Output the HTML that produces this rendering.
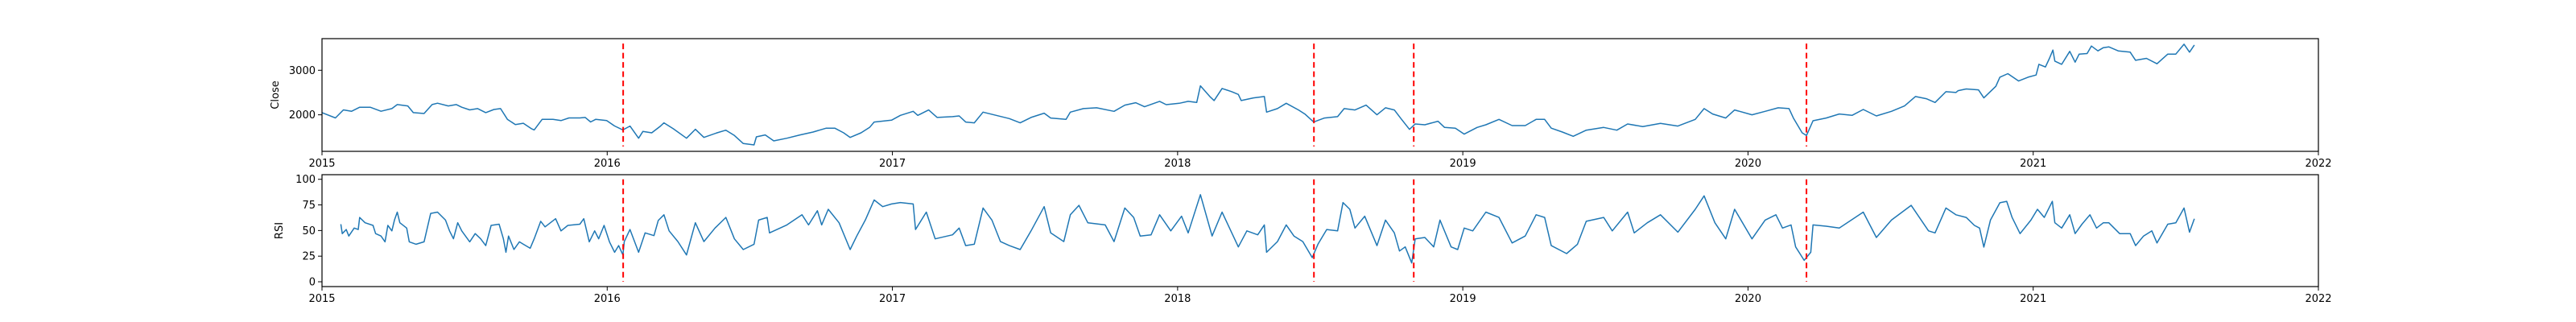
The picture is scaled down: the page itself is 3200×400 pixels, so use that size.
<!DOCTYPE html>
<html><head><meta charset="utf-8"><style>
html,body{margin:0;padding:0;background:#fff;}
svg{display:block;font-family:"DejaVu Sans","Liberation Sans",sans-serif;}
</style></head>
<body>
<svg id="chart" width="3200" height="400" viewBox="0 0 3200 400" xmlns="http://www.w3.org/2000/svg"></svg>
<script>
const closeDates=[2015.000,2015.047,2015.075,2015.104,2015.132,2015.169,2015.207,2015.245,2015.264,2015.301,2015.320,2015.358,2015.386,2015.405,2015.443,2015.471,2015.490,2015.518,2015.546,2015.574,2015.603,2015.626,2015.650,2015.678,2015.706,2015.734,2015.744,2015.772,2015.810,2015.838,2015.866,2015.904,2015.923,2015.942,2015.960,2015.998,2016.026,2016.055,
2016.080,2016.110,2016.125,2016.156,2016.187,2016.199,2016.232,2016.278,2016.309,2016.339,2016.385,2016.416,2016.446,2016.477,2016.515,2016.523,2016.554,2016.584,2016.630,2016.676,2016.722,2016.768,2016.798,2016.829,2016.852,2016.890,2016.920,2016.936,2016.997,2017.028,2017.073,2017.089,2017.127,2017.157,2017.211,2017.234,2017.257,2017.287,2017.318,2017.364,2017.410,2017.448,2017.486,2017.532,2017.555,2017.609,2017.624,2017.670,2017.716,2017.777,2017.815,2017.853,2017.884,2017.937,2017.960,2018.006,2018.037,2018.067,2018.080,2018.113,2018.128,2018.156,2018.190,2018.213,2018.223,2018.266,2018.304,2018.312,2018.350,2018.381,
2018.424,2018.446,2018.477,2018.515,2018.561,2018.584,2018.622,2018.661,2018.699,2018.729,2018.760,2018.783,2018.813,2018.833,2018.867,2018.913,2018.936,2018.974,2019.005,2019.050,2019.081,2019.127,2019.173,2019.219,2019.257,2019.287,2019.310,2019.349,2019.387,2019.433,2019.494,2019.540,2019.578,2019.631,2019.693,2019.754,2019.815,2019.846,2019.876,2019.922,2019.953,2020.014,2020.060,2020.106,2020.144,2020.159,2020.190,2020.205,2020.228,2020.274,2020.320,2020.365,2020.404,2020.450,2020.503,2020.549,2020.587,2020.625,2020.656,2020.694,2020.729,
2020.737,2020.765,2020.808,2020.827,2020.869,2020.883,2020.911,2020.949,2020.982,2021.010,2021.020,2021.043,2021.057,2021.069,2021.076,2021.100,2021.128,2021.147,2021.161,2021.189,2021.204,2021.227,2021.246,2021.265,2021.298,2021.340,2021.359,2021.397,2021.434,2021.472,2021.500,2021.529,2021.548,2021.565];
const closeValues=[2050,1930,2110,2080,2170,2170,2080,2140,2230,2200,2050,2030,2230,2260,2200,2230,2170,2110,2140,2050,2120,2140,1900,1780,1810,1690,1660,1900,1900,1870,1930,1930,1940,1840,1900,1870,1750,1660,
1747,1475,1626,1596,1747,1820,1686,1475,1675,1493,1596,1656,1536,1355,1325,1506,1548,1415,1475,1548,1614,1700,1700,1596,1493,1596,1717,1837,1880,1988,2078,1988,2108,1940,1958,1976,1837,1820,2060,1988,1916,1820,1940,2036,1928,1898,2060,2139,2157,2078,2217,2271,2181,2302,2229,2259,2302,2277,2651,2410,2320,2591,2519,2458,2320,2380,2410,2060,2139,2259,
2108,2018,1837,1928,1958,2139,2108,2217,2000,2157,2108,1916,1674,1795,1777,1855,1717,1700,1566,1717,1777,1898,1759,1759,1898,1898,1700,1614,1518,1656,1717,1656,1795,1735,1807,1747,1898,2139,2018,1928,2108,2000,2078,2157,2139,1928,1596,1536,1867,1928,2018,1988,2120,1976,2078,2199,2410,2362,2277,2519,2501,
2543,2580,2561,2380,2640,2845,2923,2760,2845,2893,3134,3074,3267,3454,3206,3134,3424,3182,3363,3375,3544,3436,3508,3526,3436,3406,3224,3267,3146,3363,3363,3586,3406,3568];
const rsiDates=[2015.066,2015.071,2015.085,2015.094,2015.113,2015.127,2015.132,2015.151,2015.179,2015.188,2015.207,2015.221,2015.231,2015.245,2015.254,2015.264,2015.273,2015.297,2015.306,2015.330,2015.358,2015.381,2015.405,2015.433,2015.447,2015.461,2015.476,2015.490,2015.518,2015.537,2015.556,2015.574,2015.593,2015.621,2015.636,2015.645,2015.654,2015.673,2015.692,2015.706,2015.730,2015.744,2015.767,2015.782,2015.819,2015.838,2015.862,2015.904,2015.918,2015.937,2015.956,2015.970,2015.989,2016.008,2016.026,2016.040,2016.055,
2016.060,2016.080,2016.110,2016.133,2016.164,2016.179,2016.199,2016.217,2016.248,2016.278,2016.309,2016.339,2016.378,2016.416,2016.446,2016.477,2016.515,2016.531,2016.561,2016.569,2016.630,2016.683,2016.706,2016.737,2016.752,2016.775,2016.813,2016.852,2016.875,2016.905,2016.936,2016.966,2016.997,2017.028,2017.073,2017.081,2017.119,2017.150,2017.211,2017.234,2017.257,2017.287,2017.318,2017.349,2017.379,2017.410,2017.448,2017.486,2017.532,2017.555,2017.601,2017.624,2017.654,2017.685,2017.746,2017.777,2017.815,2017.846,2017.869,2017.907,2017.937,2017.976,2018.014,2018.037,2018.080,2018.121,2018.156,2018.213,2018.243,2018.281,2018.304,2018.312,2018.350,2018.381,
2018.408,2018.439,2018.472,2018.492,2018.523,2018.561,2018.580,2018.604,2018.622,2018.656,2018.699,2018.729,2018.760,2018.778,2018.798,2018.821,2018.833,2018.867,2018.898,2018.920,2018.959,2018.982,2019.005,2019.035,2019.081,2019.127,2019.173,2019.219,2019.257,2019.287,2019.310,2019.364,2019.402,2019.433,2019.494,2019.524,2019.578,2019.601,2019.647,2019.693,2019.754,2019.815,2019.846,2019.884,2019.922,2019.953,2020.014,2020.060,2020.098,2020.121,2020.151,2020.167,2020.197,2020.220,2020.228,2020.274,2020.320,2020.404,2020.450,2020.503,2020.572,2020.633,2020.656,2020.694,2020.729,
2020.765,2020.794,2020.812,2020.827,2020.850,2020.883,2020.907,2020.926,2020.954,2020.992,2021.015,2021.039,2021.067,2021.076,2021.100,2021.128,2021.147,2021.171,2021.199,2021.222,2021.246,2021.265,2021.303,2021.340,2021.359,2021.387,2021.416,2021.434,2021.472,2021.500,2021.529,2021.548,2021.565];
const rsiValues=[56.2,47,51,44.6,52.4,51,62.8,57.6,55,47,44.6,39,55,49.7,60.2,68,57.6,52.4,39,36.6,39,66.7,68,60.2,49.7,42,57.6,49.7,39,47,42,35.3,55,56.2,42,28.8,44.6,31.5,39,36.6,32.7,42,59,53.6,61.5,49.7,55,56.2,61.5,39,49.7,42,55,39,28.8,35.3,26.2,
39.2,51,28.8,47.7,45,59.8,65.4,49.7,39.2,26.2,57.6,39.2,52.4,62.8,41.9,31.4,36.6,60.2,62.8,47.7,55.5,65.4,55.5,69.3,55.5,70.7,57.6,31.4,44.6,60.2,79.8,73.3,75.9,77.3,75.9,51,68,41.9,45.8,52.4,35.3,36.6,72,60.2,39.2,35.3,31.4,49.7,73.3,47.7,39.2,65.4,74.6,57.6,55.5,39.2,72,62.8,44.6,45.8,65.4,49.7,64,47.7,85,44.6,68,34,49.7,45.8,55.5,28.8,39.2,55.5,
44.6,39.2,23.6,36.6,51,49.7,77.3,70.7,52.4,64,35.3,60.2,47.7,30,34,18.3,41.9,43.2,34,60.2,34,31.4,52.4,49.7,68,62.8,37.9,44.6,65.4,62.8,35.3,27.5,36.6,59,62.8,49.7,68,47.7,57.6,65.4,48.4,70.7,83.8,57.6,41.9,70.7,41.9,60.2,65.4,52.4,55.5,34,20.9,28.8,55.5,54.2,52.4,68,43.2,60.2,74.6,49.7,47.7,72,65.4,
62.8,55,52.4,33.9,60.2,77.1,78.5,62.8,47,60.2,70.7,62.8,78.5,57.6,52.4,65.4,47,56.2,65.4,52.4,57.6,57.6,47,47,35.3,44.6,49.7,37.9,56.2,57.6,72,48.4,61.5];
const eventDates=[2016.056,2018.478,2018.828,2020.205];
const xTickLabels=["2015","2016","2017","2018","2019","2020","2021","2022"];
const closeTicks=[2000,3000];
const rsiTicks=[0,25,50,75,100];

const NS="http://www.w3.org/2000/svg";
const svg=document.getElementById('chart');
const L=400,R=2880;
const X=t=>L+(t-2015)/7*(R-L);
const P1={top:48,bot:188,min:1180,max:3710};
const P2={top:217,bot:356,min:-4.7,max:104.5};
const Y1=v=>P1.bot-(v-P1.min)/(P1.max-P1.min)*(P1.bot-P1.top);
const Y2=v=>P2.bot-(v-P2.min)/(P2.max-P2.min)*(P2.bot-P2.top);
function mk(tag,attrs,text){const e=document.createElementNS(NS,tag);for(const k in attrs)e.setAttribute(k,attrs[k]);if(text!==undefined)e.textContent=text;svg.appendChild(e);return e;}

function panel(P,Y,dates,vals,ticks,label,key,vmin,vmax){
  const line=mk('polyline',{points:dates.map((d,i)=>X(d).toFixed(1)+','+Y(vals[i]).toFixed(1)).join(' '),fill:'none',stroke:'#1f77b4','stroke-width':1.5,'stroke-linejoin':'round'});
  
  
  eventDates.forEach((d,i)=>{
    const v=mk('line',{x1:X(d),x2:X(d),y1:Y(vmax),y2:Y(vmin),stroke:'#ff0000','stroke-width':2,'stroke-dasharray':'7,4.5'});
    
    
  });
  const fr=mk('rect',{x:L,y:P.top,width:R-L,height:P.bot-P.top,fill:'none',stroke:'#000','stroke-width':1.2});
  
  
  ticks.forEach(t=>{
    mk('line',{x1:L-5,x2:L,y1:Y(t),y2:Y(t),stroke:'#000','stroke-width':1});
    const tl=mk('text',{x:L-8,y:Y(t)+4.5,'text-anchor':'end','font-size':13,fill:'#000'},String(t));
    
    
  });
  xTickLabels.forEach(lbl=>{
    const x=X(+lbl);
    mk('line',{x1:x,x2:x,y1:P.bot,y2:P.bot+5,stroke:'#000','stroke-width':1});
    const tl=mk('text',{x:x,y:P.bot+19,'text-anchor':'middle','font-size':13,fill:'#000'},lbl);
    
    
  });
  const cy=(P.top+P.bot)/2;
  const yl=mk('text',{x:0,y:0,transform:'translate('+(key==='close'?346:351)+','+cy+') rotate(-90)','text-anchor':'middle','font-size':13,fill:'#000'},label);
  
  
}
panel(P1,Y1,closeDates,closeValues,closeTicks,'Close','close',1290,3600);
panel(P2,Y2,rsiDates,rsiValues,rsiTicks,'RSI','rsi',0,100);
</script>
</body></html>
